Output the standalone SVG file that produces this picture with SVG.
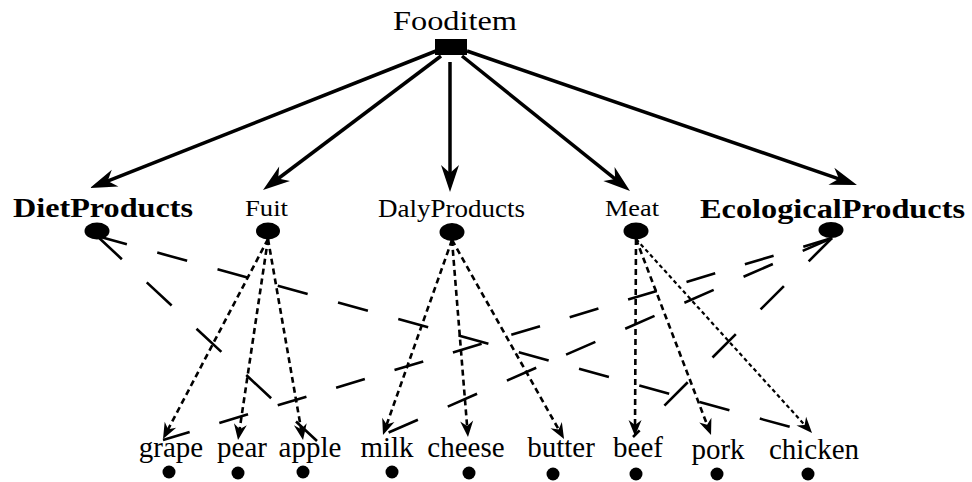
<svg xmlns="http://www.w3.org/2000/svg" width="972" height="482" viewBox="0 0 972 482">
<style>
.lbl{font-family:"Liberation Serif","Times New Roman",serif;fill:#000}
.top{font-size:27px}
.mid{font-size:25px}
.bold{font-weight:bold}
.bot{font-size:29px;text-anchor:middle}
.solid{stroke:#000;stroke-width:3.5;fill:none;marker-end:url(#big)}
.dot{stroke:#000;stroke-width:2.6;fill:none;stroke-dasharray:6 4;marker-end:url(#small)}
.fine{stroke-width:2.2;stroke-dasharray:4 3}
.long{stroke:#000;stroke-width:2.6;fill:none}
</style>
<defs>
<marker id="big" markerUnits="userSpaceOnUse" markerWidth="30" markerHeight="20" viewBox="0 -10 30 20" refX="17" refY="0" orient="auto" overflow="visible">
<path d="M27,0 L0,-9 L8,0 L0,9 Z" fill="#000"/>
</marker>
<marker id="small" markerUnits="userSpaceOnUse" markerWidth="20" markerHeight="16" viewBox="0 -8 20 16" refX="10" refY="0" orient="auto" overflow="visible">
<path d="M16,0 L0,-6.5 L5,0 L0,6.5 Z" fill="#000"/>
</marker>
</defs>

<g id="connectors">
<line class="solid" x1="436" y1="51" x2="99.3" y2="184.3"/>
<line class="solid" x1="441" y1="56" x2="271" y2="184"/>
<line class="solid" x1="450" y1="62" x2="450" y2="182"/>
<line class="solid" x1="462" y1="56" x2="622.2" y2="184.7"/>
<line class="solid" x1="467" y1="51" x2="847.5" y2="181.8"/>

<line class="dot" x1="268" y1="239" x2="165.8" y2="433.7"/>
<line class="dot" x1="268" y1="239" x2="238.9" y2="434.1"/>
<line class="dot" x1="268" y1="239" x2="302" y2="434.1"/>
<line class="dot" x1="452" y1="240" x2="385" y2="429.3"/>
<line class="dot" x1="452" y1="240" x2="467.5" y2="431"/>
<line class="dot" x1="452" y1="240" x2="561.1" y2="433.8"/>
<line class="dot" x1="636" y1="239" x2="635" y2="430"/>
<line class="dot" x1="636" y1="239" x2="708.9" y2="429.4"/>
<line class="dot fine" x1="636" y1="239" x2="808" y2="428.6"/>

<line class="long" x1="97" y1="236" x2="812" y2="433" stroke-dasharray="31 31.5"/>
<line class="long" x1="97" y1="236" x2="317" y2="441" stroke-dasharray="34 34"/>
<line class="long" x1="832" y1="238" x2="163" y2="440" stroke-dasharray="30 31"/>
<line class="long" x1="832" y1="238" x2="383" y2="435" stroke-dasharray="32 32.6"/>
<line class="long" x1="832" y1="238" x2="633" y2="437" stroke-dasharray="33 35"/>
</g>

<g id="Fooditem">
<text class="lbl top" x="393" y="30" textLength="124" lengthAdjust="spacingAndGlyphs">Fooditem</text>
<rect x="435" y="39" width="32" height="16" fill="#000"/>
</g>
<g id="DietProducts">
<text class="lbl top bold" x="13" y="217" textLength="180" lengthAdjust="spacingAndGlyphs">DietProducts</text>
<ellipse cx="97" cy="231" rx="12.5" ry="8.5" fill="#000"/>
</g>
<g id="Fuit">
<text class="lbl" font-size="24" x="245" y="216" textLength="43" lengthAdjust="spacingAndGlyphs">Fuit</text>
<ellipse cx="268" cy="231" rx="12" ry="8.5" fill="#000"/>
</g>
<g id="DalyProducts">
<text class="lbl mid" x="378" y="217" textLength="147" lengthAdjust="spacingAndGlyphs">DalyProducts</text>
<ellipse cx="452" cy="232" rx="12.5" ry="9" fill="#000"/>
</g>
<g id="Meat">
<text class="lbl" font-size="24" x="605" y="216" textLength="54" lengthAdjust="spacingAndGlyphs">Meat</text>
<ellipse cx="636" cy="231" rx="12.5" ry="8.5" fill="#000"/>
</g>
<g id="EcologicalProducts">
<text class="lbl top bold" x="700" y="218" textLength="265" lengthAdjust="spacingAndGlyphs">EcologicalProducts</text>
<ellipse cx="831" cy="230" rx="12.5" ry="8" fill="#000"/>
</g>

<g id="grape"><text class="lbl bot" x="171" y="457">grape</text><circle cx="169" cy="472" r="6.5" fill="#000"/></g>
<g id="pear"><text class="lbl bot" x="242" y="457">pear</text><circle cx="238" cy="473" r="6.5" fill="#000"/></g>
<g id="apple"><text class="lbl bot" x="310" y="457">apple</text><circle cx="303" cy="472" r="6.5" fill="#000"/></g>
<g id="milk"><text class="lbl bot" x="387" y="457">milk</text><circle cx="392" cy="472" r="6.5" fill="#000"/></g>
<g id="cheese"><text class="lbl bot" x="466" y="457">cheese</text><circle cx="469" cy="473" r="6.5" fill="#000"/></g>
<g id="butter"><text class="lbl bot" x="561" y="457">butter</text><circle cx="553" cy="474" r="6.5" fill="#000"/></g>
<g id="beef"><text class="lbl bot" x="638" y="457">beef</text><circle cx="636" cy="474" r="6.5" fill="#000"/></g>
<g id="pork"><text class="lbl bot" x="718" y="459">pork</text><circle cx="717" cy="474" r="6.5" fill="#000"/></g>
<g id="chicken"><text class="lbl bot" x="814" y="459">chicken</text><circle cx="808" cy="474" r="6.5" fill="#000"/></g>
</svg>
